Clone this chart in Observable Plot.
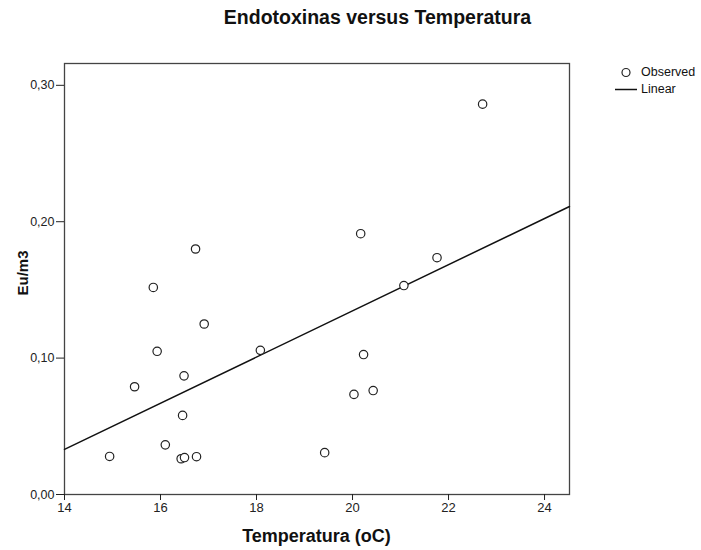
<!DOCTYPE html>
<html>
<head>
<meta charset="utf-8">
<script src="https://cdn.jsdelivr.net/npm/d3@7"></script>
<script src="https://cdn.jsdelivr.net/npm/@observablehq/plot@0.6"></script>
<style>
  html, body { margin: 0; padding: 0; background: #fff; }
  #wrap { position: relative; width: 701px; height: 550px; font-family: "Liberation Sans", Arial, sans-serif; color: #111; }
  .ov { position: absolute; white-space: nowrap; }
  #title { left: 0; width: 755px; top: 6px; text-align: center; font-weight: bold; font-size: 19.5px; }
  #xlabel { left: 64px; width: 505px; top: 526px; text-align: center; font-weight: bold; font-size: 18px; }
  #ylabel { left: 22px; top: 273px; font-weight: bold; font-size: 15px; transform: translate(-50%, -50%) rotate(-90deg); }
  #legend { left: 612px; top: 64px; font-size: 12.5px; line-height: 17px; }
  #legend .row { display: flex; align-items: center; }
  #legend svg { margin-right: 3px; }
</style>
</head>
<body>
<div id="wrap">
  <div id="chart"></div>
  <div class="ov" id="title">Endotoxinas versus Temperatura</div>
  <div class="ov" id="xlabel">Temperatura (oC)</div>
  <div class="ov" id="ylabel">Eu/m3</div>
  <div class="ov" id="legend">
    <div class="row"><svg width="26" height="17"><circle cx="14" cy="8.5" r="4" fill="white" stroke="#222" stroke-width="1.2"/></svg><span>Observed</span></div>
    <div class="row"><svg width="26" height="17"><line x1="3" x2="25" y1="8.5" y2="8.5" stroke="#111" stroke-width="1.5"/></svg><span>Linear</span></div>
  </div>
</div>
<script>
const temperatura = [14.94, 15.46, 15.85, 15.93, 16.10, 16.43, 16.50, 16.49, 16.46, 16.73, 16.75, 16.91, 18.08, 19.42, 20.03, 20.17, 20.23, 20.43, 21.07, 21.76, 22.71];
const endotoxinas = [0.0279, 0.0790, 0.1518, 0.1050, 0.0364, 0.0262, 0.0271, 0.0870, 0.0580, 0.1800, 0.0277, 0.1250, 0.1057, 0.0307, 0.0734, 0.1912, 0.1026, 0.0762, 0.1532, 0.1736, 0.2862];
const xTicks = [14, 16, 18, 20, 22, 24];
const yTicks = [0.00, 0.10, 0.20, 0.30];
const xDomain = [14, 24.52];
const yDomain = [0, 0.316];

const data = temperatura.map((t, i) => ({t, e: endotoxinas[i]}));
// least-squares linear fit
const mx = d3.mean(temperatura), my = d3.mean(endotoxinas);
const sxy = d3.sum(data, d => (d.t - mx) * (d.e - my));
const sxx = d3.sum(data, d => (d.t - mx) ** 2);
const slope = sxy / sxx, intercept = my - slope * mx;
const fit = xDomain.map(t => ({t, e: intercept + slope * t}));

const chart = Plot.plot({
  width: 701,
  height: 550,
  marginLeft: 64,
  marginRight: 132,
  marginTop: 63,
  marginBottom: 56,
  style: {fontFamily: "'Liberation Sans', Arial, sans-serif", fontSize: "12.5px", color: "#222", background: "white"},
  x: {domain: xDomain},
  y: {domain: yDomain},
  marks: [
    Plot.frame({stroke: "#444", strokeWidth: 1.3}),
    Plot.axisX({ticks: xTicks, tickSize: 6, tickPadding: 2, label: null, fontSize: 13}),
    Plot.axisY({ticks: yTicks, tickSize: 8, tickPadding: 2, label: null, fontSize: 12.5,
      tickFormat: d => d3.format(".2f")(d).replace(".", ",")}),
    Plot.line(fit, {x: "t", y: "e", stroke: "#111", strokeWidth: 1.5}),
    Plot.dot(data, {x: "t", y: "e", r: 4.2, fill: "white", stroke: "#222", strokeWidth: 1.2})
  ]
});
document.getElementById("chart").appendChild(chart);
</script>
</body>
</html>
